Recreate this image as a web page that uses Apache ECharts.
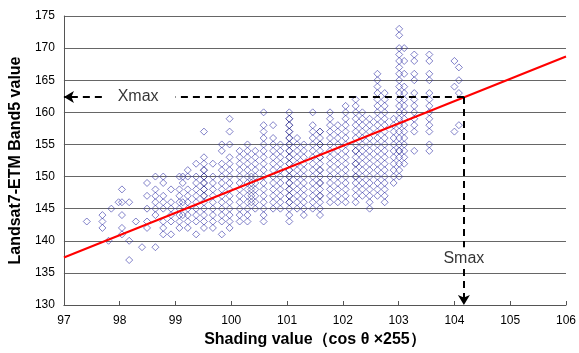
<!DOCTYPE html>
<html>
<head>
<meta charset="utf-8">
<script src="https://cdn.jsdelivr.net/npm/echarts@6/dist/echarts.min.js"></script>
<style>
  html, body { margin: 0; padding: 0; background: #fff; }
  #chart { width: 579px; height: 353px; }
</style>
</head>
<body>
<div id="chart"></div>
<script>
// x positions of the shading-value columns
const colX = [
  97.41, 97.69, 97.80, 97.85, 97.98, 98.04, 98.17, 98.29, 98.40, 98.49,
  98.64, 98.78, 98.92, 99.07, 99.13, 99.22, 99.37, 99.51, 99.67, 99.83,
  99.97, 100.15, 100.29, 100.43, 100.58, 100.75, 100.88, 101.04, 101.18, 101.30,
  101.46, 101.59, 101.77, 101.91, 102.05, 102.23, 102.35, 102.48, 102.62, 102.75,
  102.91, 103.01, 103.10, 103.28, 103.55, 104.00, 104.08
];
// band5 values found in each column
const colY = [
  [143],
  [144, 143, 142],
  [140],
  [145],
  [146],
  [148, 146, 144, 142, 141],
  [146, 140, 137],
  [143],
  [139],
  [149, 147, 145, 143, 142],
  [150, 148, 147, 146, 145, 144, 139],
  [150, 149, 147, 146, 145, 143, 142, 141],
  [148, 146, 145, 144, 143, 141],
  [150, 148, 147, 146, 145, 144, 143, 142],
  [150, 149, 146, 144],
  [151, 150, 148, 147, 146, 145, 144, 143, 142],
  [152, 150, 149, 148, 147, 146, 145, 144, 143, 141],
  [157, 153, 152, 151, 150, 149, 148, 147, 146, 145, 144, 143, 142],
  [152, 150, 149, 148, 147, 146, 145, 144, 143, 142],
  [155, 154, 152, 151, 150, 149, 148, 147, 146, 145, 144, 143, 141],
  [159, 157, 155, 153, 152, 151, 150, 149, 148, 147, 146, 145, 144, 143, 142],
  [154, 153, 152, 151, 150, 149, 148, 147, 146, 145, 144, 143],
  [155, 154, 153, 152, 151, 150, 149, 148, 147, 146, 145, 144, 143],
  [154, 153, 152, 151, 150, 149, 148, 147, 146, 145],
  [160, 158, 157, 156, 155, 154, 153, 152, 151, 150, 149, 148, 147, 146, 145, 144, 143],
  [158, 156, 155, 154, 153, 152, 151, 150, 149, 148, 147, 146, 145],
  [155, 154, 153, 152, 151, 150, 149, 148, 147, 146, 145],
  [160, 159, 158, 157, 156, 155, 154, 153, 152, 151, 150, 149, 148, 147, 146, 145, 144, 143],
  [156, 155, 154, 153, 152, 151, 150, 149, 148, 147, 146, 145],
  [155, 154, 153, 152, 151, 150, 149, 148, 147, 146, 145, 144],
  [160, 158, 157, 156, 155, 154, 153, 152, 151, 150, 149, 148, 147, 146, 145],
  [157, 156, 155, 154, 153, 152, 151, 150, 149, 148, 147, 146, 145, 144],
  [160, 159, 158, 157, 156, 155, 154, 153, 152, 151, 150, 149, 148, 147, 146],
  [158, 157, 156, 155, 154, 153, 152, 151, 150, 149, 148, 147, 146],
  [161, 160, 159, 158, 157, 156, 155, 154, 153, 152, 151, 150, 149, 148, 147, 146],
  [162, 161, 160, 159, 158, 157, 156, 155, 154, 153, 152, 151, 150, 149, 148, 147, 146],
  [160, 159, 158, 157, 156, 155, 154, 153, 152, 151, 150, 149, 148, 147],
  [159, 158, 157, 156, 155, 154, 153, 152, 151, 150, 149, 148, 147, 146, 145],
  [166, 165, 164, 163, 162, 161, 160, 159, 158, 157, 156, 155, 154, 153, 152, 151, 150, 149, 148, 147],
  [163, 162, 161, 160, 159, 158, 157, 156, 155, 154, 153, 152, 151, 150, 149, 148, 147, 146],
  [159, 158, 157, 156, 155, 154, 153, 152, 151, 150, 149],
  [173, 172, 170, 169, 168, 167, 166, 165, 164, 163, 162, 161, 160, 159, 158, 157, 156, 155, 154, 153, 152, 151, 150],
  [170, 168, 166, 164, 163, 162, 161, 160, 159, 158, 157, 156, 155, 154, 153, 152],
  [169, 168, 166, 165, 163, 162, 161, 160, 159, 158, 157, 154],
  [169, 168, 166, 165, 163, 162, 161, 160, 159, 158, 157, 155, 154],
  [168, 164, 157],
  [167, 165, 163, 158]
];
// repeated pixels that show up darker
const dupX = [101.04, 99.51, 100.36, 101.59, 102.23, 103.01];
const dupY = [
  [159, 158, 157, 156, 155, 154, 153, 152, 151, 150, 149, 148, 147, 146],
  [151, 150, 149, 148, 147],
  [150, 149, 148, 147, 146],
  [157, 155, 153, 151, 149, 147],
  [154, 152, 150],
  [154]
];
// fitted line end points
const fitLine = [[97, 137.4], [106, 168.7]];
const xMaxY = 162.4;
const sMaxX = 104.17;

const points = [];
colX.forEach((x, i) => colY[i].forEach(y => points.push([x, y])));
const dupPoints = [];
dupX.forEach((x, i) => dupY[i].forEach(y => dupPoints.push([x, y])));

const chart = echarts.init(document.getElementById('chart'));
const FONT = 'Liberation Sans, Arial, sans-serif';
const dash = { color: '#000', width: 2, type: [7, 5] };

chart.setOption({
  animation: false,
  grid: { left: 62, right: 11, top: 16, bottom: 47 },
  xAxis: {
    type: 'value', min: 97, max: 106, interval: 1,
    name: 'Shading value（cos θ ×255）',
    nameLocation: 'middle', nameGap: 27,
    nameTextStyle: { fontFamily: FONT, fontSize: 16, fontWeight: 'bold', color: '#000' },
    axisLine: { lineStyle: { color: '#555', width: 1 } },
    axisTick: { inside: true, length: 4, lineStyle: { color: '#555' } },
    axisLabel: { fontFamily: FONT, fontSize: 12, color: '#000', margin: 10 },
    splitLine: { show: false }
  },
  yAxis: {
    type: 'value', min: 130, max: 175, interval: 5,
    name: 'Landsat7-ETM Band5 value',
    nameLocation: 'middle', nameGap: 29,
    nameTextStyle: { fontFamily: FONT, fontSize: 16, fontWeight: 'bold', color: '#000' },
    axisLine: { show: true, lineStyle: { color: '#555', width: 1 } },
    axisTick: { show: false },
    axisLabel: { fontFamily: FONT, fontSize: 12, color: '#000', margin: 9 },
    splitLine: { lineStyle: { color: '#666', width: 1 } }
  },
  series: [
    {
      type: 'scatter',
      data: points,
      symbol: 'diamond',
      symbolSize: 7,
      itemStyle: { color: 'rgba(0,0,0,0)', borderColor: 'rgba(60,60,170,0.8)', borderWidth: 1 },
      z: 2
    },
    {
      type: 'scatter',
      data: dupPoints,
      symbol: 'diamond',
      symbolSize: 7,
      itemStyle: { color: 'rgba(0,0,0,0)', borderColor: 'rgba(20,20,120,0.6)', borderWidth: 1 },
      z: 2
    },
    {
      type: 'line',
      data: fitLine,
      symbol: 'none',
      lineStyle: { color: '#ff0000', width: 2 },
      z: 4,
      markLine: {
        silent: true,
        label: { show: false },
        lineStyle: dash,
        symbolSize: [9, 10],
        data: [
          [{ coord: [sMaxX, xMaxY], symbol: 'none' }, { coord: [99.0, xMaxY], symbol: 'none' }],
          [{ coord: [97.68, xMaxY], symbol: 'none' }, { coord: [97.0, xMaxY], symbol: 'arrow' }],
          [{ coord: [sMaxX, xMaxY], symbol: 'none' }, { coord: [sMaxX, 139.0], symbol: 'none' }],
          [{ coord: [sMaxX, 135.6], symbol: 'none' }, { coord: [sMaxX, 130], symbol: 'arrow' }]
        ]
      }
    },
    {
      type: 'scatter',
      data: [[98.33, xMaxY, 'Xmax'], [sMaxX, 137.2, 'Smax']],
      symbolSize: 0,
      silent: true,
      label: {
        show: true, position: 'inside',
        formatter: p => p.data[2],
        fontFamily: FONT, fontSize: 16, color: '#000', textBorderWidth: 0
      },
      z: 5
    }
  ]
});
</script>
</body>
</html>
